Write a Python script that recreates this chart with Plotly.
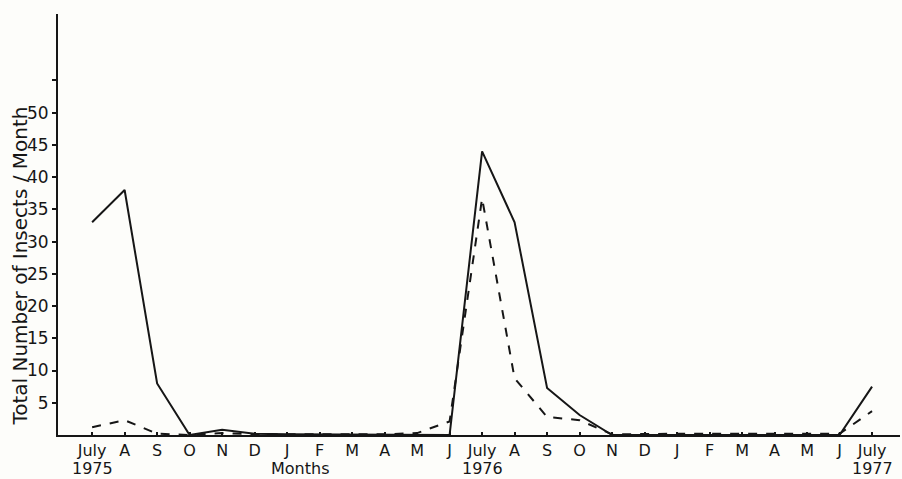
import plotly.graph_objects as go

# Month positions along the x axis (July 1975 .. July 1977)
months = ["July", "A", "S", "O", "N", "D", "J", "F", "M", "A", "M", "J",
          "July", "A", "S", "O", "N", "D", "J", "F", "M", "A", "M", "J", "July"]
year_labels = ["1975", "1976", "1977"]
year_positions = [0, 12, 24]

# Monthly totals for the two series
solid_series = [33, 38, 8, 0, 0.8, 0.2, 0.1, 0.1, 0.1, 0.1, 0.1, 0,
                44, 33, 7.3, 3.1, 0, 0, 0, 0, 0, 0, 0, 0, 7.5]
dashed_series = [1.2, 2.3, 0.2, 0, 0.3, 0.1, 0.1, 0.1, 0.1, 0.1, 0.3, 2.1,
                 36.7, 8.8, 2.8, 2.3, 0.1, 0.2, 0.2, 0.2, 0.2, 0.2, 0.2, 0.2, 3.7]

y_ticks = [5, 10, 15, 20, 25, 30, 35, 40, 45, 50, 55]
y_ticktext = ["5", "10", "15", "20", "25", "30", "35", "40", "45", "50", ""]

x = list(range(len(months)))
font_family = "DejaVu Sans, Verdana, sans-serif"
ink = "#161616"

fig = go.Figure()
fig.add_trace(go.Scatter(x=x, y=solid_series, mode="lines",
                         line=dict(color=ink, width=2), showlegend=False))
fig.add_trace(go.Scatter(x=x, y=dashed_series, mode="lines",
                         line=dict(color=ink, width=2, dash="dash"), showlegend=False))

fig.update_layout(
    width=902, height=479,
    margin=dict(l=58, r=2, t=14, b=44),
    paper_bgcolor="#fdfdfa", plot_bgcolor="#fdfdfa",
    font=dict(family=font_family, size=16, color=ink),
    xaxis=dict(range=[-1.05, 24.86], tickmode="array", tickvals=x, ticktext=months,
               showgrid=False, zeroline=False, showline=True, linecolor=ink, linewidth=2,
               ticks="inside", ticklen=3, tickcolor=ink, tickwidth=2,
               tickfont=dict(size=16)),
    yaxis=dict(range=[0, 65.3], tickmode="array", tickvals=y_ticks, ticktext=y_ticktext,
               showgrid=False, zeroline=False, showline=True, linecolor=ink, linewidth=2,
               ticks="outside", ticklen=4, tickcolor=ink, tickwidth=1.5,
               tickfont=dict(size=17)),
)

for label, pos in zip(year_labels, year_positions):
    fig.add_annotation(x=pos, y=0, xref="x", yref="paper", text=label, showarrow=False,
                       xanchor="center", yanchor="top", yshift=-22, font=dict(size=16))

fig.add_annotation(x=6.4, y=0, xref="x", yref="paper", text="Months", showarrow=False,
                   xanchor="center", yanchor="top", yshift=-22, font=dict(size=16))

fig.add_annotation(x=0, y=0.40, xref="paper", yref="paper",
                   text="Total Number of Insects / Month", textangle=-90,
                   showarrow=False, xanchor="center", yanchor="middle", xshift=-38,
                   font=dict(size=20))

fig.write_html("out.html")
